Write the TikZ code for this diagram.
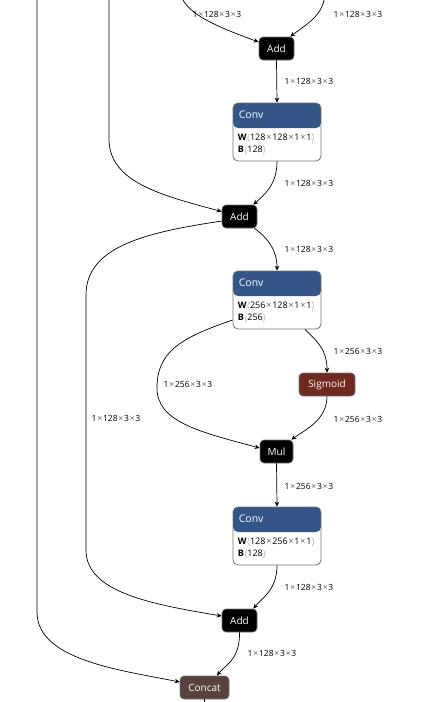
\documentclass[tikz,border=0pt]{standalone}
\usepackage{fontspec}
\setmainfont{Open Sans}
\usetikzlibrary{arrows.meta}
\definecolor{convblue}{HTML}{335588}
\definecolor{sigred}{HTML}{702921}
\definecolor{catbrown}{HTML}{59423B}
\newcommand{\mx}{\kern0.8pt{\color{black!65}×}\kern0.8pt}
\newcommand{\la}{{\color{black!55}$\langle$}}
\newcommand{\ra}{{\color{black!55}$\rangle$}}
\tikzset{
  op/.style={rounded corners=4pt, minimum height=23pt, inner sep=0pt,
    font=\fontsize{10}{12}\selectfont, text=white, draw=black!55, line width=0.6pt},
  addop/.style={op, fill=black, minimum width=35pt},
  convbox/.style={draw=black!55, line width=0.8pt, fill=white, rounded corners=5pt,
    minimum width=88pt, minimum height=58pt, inner sep=0pt,
    path picture={\fill[convblue] (path picture bounding box.north west) rectangle ([yshift=-25pt]path picture bounding box.north east);}},
  edge/.style={line width=0.7pt, -{Stealth[length=5pt,width=4.5pt]}},
  plain/.style={line width=0.7pt},
  lbl/.style={font=\fontsize{8.5}{10}\selectfont, inner sep=0pt},
  ctitle/.style={font=\fontsize{10.5}{12}\selectfont, text=white, anchor=west, inner sep=0pt},
  attr/.style={font=\fontsize{9}{10}\selectfont, anchor=west, inner sep=0pt},
}
\begin{document}
\begin{tikzpicture}[x=1pt,y=-1pt]
\useasboundingbox (0,0) rectangle (444,702);

% nodes
\node[addop] (add1) at (276.5,48.5) {Add};
\node[convbox] (conv1) at (277,132) {};
\node[ctitle] (c1t) at ([xshift=6pt,yshift=-12.5pt]conv1.north west) {Conv};
\node[attr] (c1w) at ([xshift=5pt,yshift=-36pt]conv1.north west) {\textbf{W}\la128\mx128\mx1\mx1\ra};
\node[attr] (c1b) at ([xshift=5pt,yshift=-48pt]conv1.north west) {\textbf{B}\la128\ra};

\node[addop] (add2) at (239.5,216.5) {Add};
\node[convbox] (conv2) at (277,300) {};
\node[ctitle] (c2t) at ([xshift=6pt,yshift=-12.5pt]conv2.north west) {Conv};
\node[attr] (c2w) at ([xshift=5pt,yshift=-36pt]conv2.north west) {\textbf{W}\la256\mx128\mx1\mx1\ra};
\node[attr] (c2b) at ([xshift=5pt,yshift=-48pt]conv2.north west) {\textbf{B}\la256\ra};

\node[op, fill=sigred, minimum width=56pt] (sig) at (327,384.5) {Sigmoid};
\node[addop, minimum width=33pt] (mul) at (276.5,451.5) {Mul};

\node[convbox] (conv3) at (277,536) {};
\node[ctitle] (c3t) at ([xshift=6pt,yshift=-12.5pt]conv3.north west) {Conv};
\node[attr] (c3w) at ([xshift=5pt,yshift=-36pt]conv3.north west) {\textbf{W}\la128\mx256\mx1\mx1\ra};
\node[attr] (c3b) at ([xshift=5pt,yshift=-48pt]conv3.north west) {\textbf{B}\la128\ra};

\node[addop] (add3) at (239.5,620.5) {Add};
\node[op, fill=catbrown, minimum width=49pt] (cat) at (204.5,687.5) {Concat};

% free ends
\coordinate (inA) at (180,-10);
\coordinate (inB) at (325,-10);
\coordinate (inC) at (109,-10);
\coordinate (inD) at (37,-10);
\coordinate (out) at (204.5,712);

% connectors
\draw[edge] (inA) .. controls (181,12) and (215,26) .. ([yshift=6.5pt]add1.west);
\draw[edge] (inB) .. controls (326,15) and (305,25) .. ([xshift=-4pt]add1.north east);
\draw[edge] (add1.south) -- (conv1.north);
\draw[edge] (conv1.south) .. controls (277,185) and (264,195) .. ([xshift=-4pt]add2.north east);
\draw[edge] (inC) -- (109,140) .. controls (110,182) and (160,195) .. ([yshift=5pt]add2.west);
\draw[edge] ([xshift=-3pt]add2.south east) .. controls (268,238) and (277,250) .. (conv2.north);
\draw[edge] ([yshift=-4.5pt]add2.west) .. controls (150,232) and (86,245) .. (86,295) -- (86,550) .. controls (86,592) and (150,604) .. ([yshift=4.5pt]add3.west);
\draw[edge] ([xshift=28pt]conv2.south) .. controls (318,342) and (327,350) .. (sig.north);
\draw[edge] ([yshift=-20pt]conv2.west) .. controls (180,338) and (157,352) .. (157,388) .. controls (157,422) and (200,432) .. ([yshift=3.5pt]mul.west);
\draw[edge] (sig.south) .. controls (327,420) and (305,430) .. ([xshift=-2pt]mul.north east);
\draw[edge] (mul.south) -- (conv3.north);
\draw[edge] (conv3.south) .. controls (277,590) and (262,598) .. ([xshift=-4pt]add3.north east);
\draw[edge] (add3.south) .. controls (240,660) and (225,665) .. ([xshift=12.5pt]cat.north);
\draw[edge] (inD) -- (37,612) .. controls (37,660) and (120,670) .. ([yshift=5.5pt]cat.west);
\draw[plain] (cat.south) -- (out);

% labels
\node[lbl] (l1) at (217,14) {1\mx128\mx3\mx3};
\node[lbl] (l2) at (358,14) {1\mx128\mx3\mx3};
\node[lbl] (l3) at (309,81) {1\mx128\mx3\mx3};
\node[lbl] (l4) at (309,183) {1\mx128\mx3\mx3};
\node[lbl] (l5) at (309,249) {1\mx128\mx3\mx3};
\node[lbl] (l6) at (358,351) {1\mx256\mx3\mx3};
\node[lbl] (l7) at (188,384) {1\mx256\mx3\mx3};
\node[lbl] (l8) at (116,418) {1\mx128\mx3\mx3};
\node[lbl] (l9) at (358,419) {1\mx256\mx3\mx3};
\node[lbl] (l10) at (309,486) {1\mx256\mx3\mx3};
\node[lbl] (l11) at (309,587) {1\mx128\mx3\mx3};
\node[lbl] (l12) at (272,653) {1\mx128\mx3\mx3};
\end{tikzpicture}
\end{document}
